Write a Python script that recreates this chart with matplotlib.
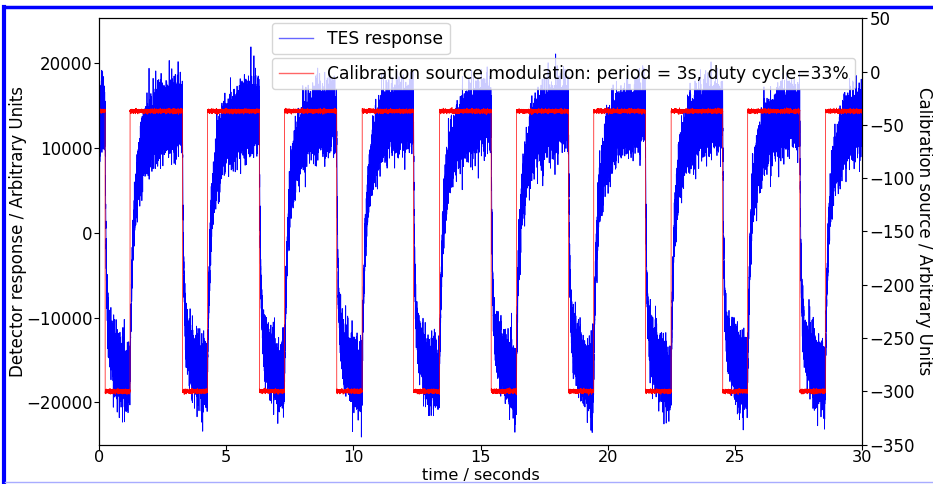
import numpy as np
import matplotlib
matplotlib.use('Agg')
import matplotlib.pyplot as plt
from matplotlib.lines import Line2D

# square wave edges of the calibration source (seconds)
fall_times = [0.24, 3.28, 6.30, 9.34, 12.36, 15.41, 18.45, 21.47, 24.51, 27.54]
rise_times = [1.22, 4.26, 7.29, 10.34, 13.38, 16.40, 19.44, 22.48, 25.49, 28.54]

# plateau levels
src_high, src_low = -37.0, -300.0       # right axis
tes_high, tes_low = 14000.0, -17500.0   # left axis
tes_noise = 2000.0
src_noise = 0.9

fs = 1000  # samples per second
t = np.arange(0, 30, 1.0 / fs)

edges = sorted([(x, 'fall') for x in fall_times] + [(x, 'rise') for x in rise_times])

source = np.full_like(t, src_high)
tes = np.full_like(t, tes_high)
noise_env = np.ones_like(t)
prev = tes_high
for i, (te, kind) in enumerate(edges):
    t_end = edges[i + 1][0] if i + 1 < len(edges) else 30.0
    m = (t >= te) & (t < t_end)
    dt = t[m] - te
    if kind == 'fall':
        source[m] = src_low
        level = tes_low
        r = 0.75 * np.exp(-dt / 0.04) + 0.25 * np.exp(-dt / 0.35)
    else:
        source[m] = src_high
        level = tes_high
        r = 0.5 * np.exp(-dt / 0.08) + 0.5 * np.exp(-dt / 0.4)
    tes[m] = level + (prev - level) * r
    noise_env[m] = 0.4 + 0.6 * (1 - np.exp(-dt / 0.15))
    prev = tes[m][-1]

rng = np.random.default_rng(3)
tes = tes + tes_noise * noise_env * rng.standard_normal(t.size)
source = source + src_noise * rng.standard_normal(t.size)

fig = plt.figure(figsize=(9.33, 4.84), dpi=100)
fig.subplots_adjust(left=0.1061, right=0.9244, top=0.9618, bottom=0.0816)
ax1 = fig.add_subplot(111)
ax2 = ax1.twinx()

ax1.plot(t, tes, color='blue', lw=0.6, label='TES response')
ax2.plot(t, source, color='red', lw=0.5,
         label='Calibration source modulation: period = 3s, duty cycle=33%')

ax1.set_xlim(0, 30)
ax1.set_ylim(-24950, 25200)
ax2.set_ylim(-350, 50)
ax1.set_yticks([-20000, -10000, 0, 10000, 20000])

fs_txt = 12
ax1.tick_params(axis='y', labelsize=fs_txt, pad=1)
ax1.tick_params(axis='x', labelsize=11.6, pad=0.5)
ax2.tick_params(labelsize=fs_txt, pad=1.5)
ax1.set_xlabel('time / seconds', fontsize=11.6)
ax1.xaxis.set_label_coords(0.5, -0.056)
ax1.set_ylabel('Detector response / Arbitrary Units', fontsize=fs_txt)
ax1.yaxis.set_label_coords(-0.094, 0.5)
ax2.set_ylabel('Calibration source / Arbitrary Units', fontsize=fs_txt,
               rotation=270, labelpad=13)

leg1 = ax1.legend(loc='upper left', bbox_to_anchor=(0.2267, 0.99), borderaxespad=0,
                  fontsize=12.3)
leg2 = ax2.legend(loc='upper left', bbox_to_anchor=(0.2267, 0.908), borderaxespad=0,
                  fontsize=12.3)
for leg in (leg1, leg2):
    for ln in leg.get_lines():
        ln.set_alpha(0.6)
        ln.set_linewidth(1.0)

# blue frame from the screenshot
fig.add_artist(Line2D([0.005, 1.0], [0.9855, 0.9855], color='blue', lw=2.5,
                      transform=fig.transFigure))
fig.add_artist(Line2D([0.0045, 0.0045], [0.0, 0.9865], color='blue', lw=3,
                      transform=fig.transFigure))
fig.add_artist(Line2D([0.005, 1.0], [0.005, 0.005], color='#a8acff', lw=1,
                      transform=fig.transFigure))

fig.savefig('out.png', dpi=100)
